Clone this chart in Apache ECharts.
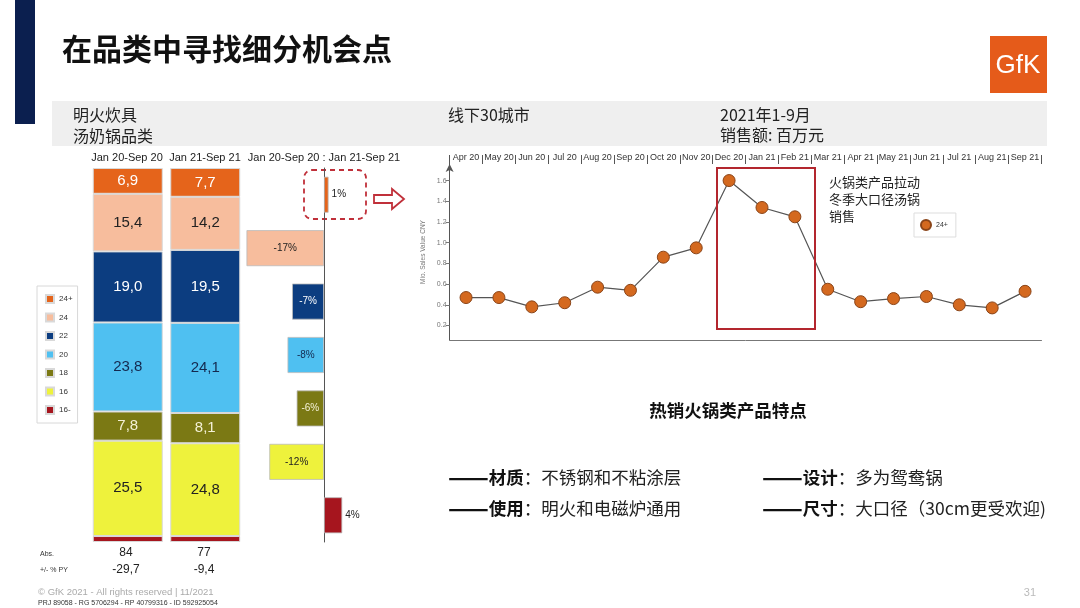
<!DOCTYPE html>
<html><head><meta charset="utf-8">
<script src="https://cdn.jsdelivr.net/npm/echarts@6/dist/echarts.min.js"></script>
<style>html,body{margin:0;padding:0;background:#fff}#c{width:1080px;height:608px}</style>
</head><body><div id="c"></div>
<script>
// ---------- data ----------
const segments = ['24+', '24', '22', '20', '18', '16', '16-'];
const periods = ['Jan 20-Sep 20', 'Jan 21-Sep 21'];
const share2020 = [6.9, 15.4, 19.0, 23.8, 7.8, 25.5, 1.6];
const share2021 = [7.7, 14.2, 19.5, 24.1, 8.1, 24.8, 1.6];
const changePct = [1, -17, -7, -8, -6, -12, 4];
const absValues = ['84', '77'];
const pyChange = ['-29,7', '-9,4'];
const months = ['Apr 20', 'May 20', 'Jun 20', 'Jul 20', 'Aug 20', 'Sep 20', 'Oct 20', 'Nov 20', 'Dec 20',
  'Jan 21', 'Feb 21', 'Mar 21', 'Apr 21', 'May 21', 'Jun 21', 'Jul 21', 'Aug 21', 'Sep 21'];
const sales24plus = [0.47, 0.47, 0.38, 0.42, 0.57, 0.54, 0.86, 0.95, 1.60, 1.34, 1.25, 0.55, 0.43, 0.46, 0.48, 0.40, 0.37, 0.53];
const yTicks = [0.2, 0.4, 0.6, 0.8, 1.0, 1.2, 1.4, 1.6];

// ---------- styles ----------
const segColor = {'24+': '#e5641b', '24': '#f7bd9d', '22': '#0c3d80', '20': '#4fc0f1', '18': '#7b7914', '16': '#eef23c', '16-': '#a6151e'};
const segLabel = {'24+': '#ffffff', '24': '#222222', '22': '#ffffff', '20': '#14284e', '18': '#f4f1d6', '16': '#222222', '16-': '#ffffff'};
const CJK = '"Noto Sans CJK SC", sans-serif';
const LAT = '"Liberation Sans", Arial, "Noto Sans CJK SC", sans-serif';
const fmtComma = v => v.toFixed(1).replace('.', ',');

const chart = echarts.init(document.getElementById('c'), null, {renderer: 'canvas'});

// stacked share bars (bottom segment first)
const stackSeries = segments.slice().reverse().map(seg => {
  const i = segments.indexOf(seg);
  return {
    name: seg, type: 'bar', stack: 'share', xAxisIndex: 0, yAxisIndex: 0,
    barWidth: 70,
    data: [share2020[i], share2021[i]],
    itemStyle: {color: segColor[seg], borderColor: '#d9d9d9', borderWidth: 1},
    label: {
      show: seg !== '16-', position: 'inside', fontFamily: LAT, fontSize: 15,
      color: segLabel[seg], formatter: p => fmtComma(p.value)
    }
  };
});

const changeSeries = {
  name: 'change', type: 'bar', xAxisIndex: 1, yAxisIndex: 1, barWidth: 36,
  data: changePct.map((v, i) => ({
    value: v,
    itemStyle: {color: segColor[segments[i]], borderColor: '#bbbbbb', borderWidth: 0.8},
    label: {position: v > 0 ? 'right' : 'inside', color: v > 0 ? '#222' : segLabel[segments[i]], distance: 3}
  })),
  label: {show: true, fontFamily: LAT, fontSize: 10, formatter: p => p.value + '%'}
};

const lineSeries = {
  name: 'line24+', type: 'line', xAxisIndex: 2, yAxisIndex: 2,
  data: sales24plus, symbol: 'circle', symbolSize: 12,
  itemStyle: {color: '#d4691f', borderColor: '#8a4418', borderWidth: 1},
  lineStyle: {color: '#555555', width: 1.2}, z: 5
};

function txt(x, y, text, font, fill, align, extra) {
  return Object.assign({type: 'text', x: x, y: y, silent: true,
    style: Object.assign({text: text, font: font, fill: fill,
      textAlign: align || 'left', align: align || 'left',
      textVerticalAlign: 'middle', verticalAlign: 'middle'}, extra || {})});
}
function richTxt(x, y, text) {
  return {type: 'text', x: x, y: y, silent: true, style: {
    text: text, fontFamily: CJK, fontSize: 17.5, fill: '#222', align: 'left', verticalAlign: 'middle',
    textAlign: 'left', textVerticalAlign: 'middle',
    rich: {
      d: {fontFamily: CJK, fontSize: 24, fontWeight: 'bold', fill: '#111'},
      b: {fontFamily: CJK, fontSize: 17.5, fontWeight: 'bold', fill: '#111'}
    }
  }};
}

const graphics = [
  {type: 'rect', silent: true, shape: {x: 15, y: 0, width: 20, height: 124}, style: {fill: '#0b1f4f'}},
  txt(62, 49, '在品类中寻找细分机会点', 'bold 30px ' + CJK, '#111'),
  // logo
  {type: 'rect', silent: true, shape: {x: 990, y: 36, width: 57, height: 57}, style: {fill: '#e55b1a'}},
  txt(1018, 66, 'GfK', '26px ' + LAT, '#ffffff', 'center'),
  // header band
  {type: 'rect', silent: true, shape: {x: 52, y: 101, width: 995, height: 45}, style: {fill: '#efefef'}},
  txt(73, 115, '明火炊具', '16px ' + CJK, '#222'),
  txt(73, 136, '汤奶锅品类', '16px ' + CJK, '#222'),
  txt(448, 115, '线下30城市', '16px ' + CJK, '#222'),
  txt(720, 115, '2021年1-9月', '16px ' + CJK, '#222'),
  txt(720, 135, '销售额: 百万元', '16px ' + CJK, '#222'),
  // column headers
  txt(127, 158, periods[0], '11px ' + LAT, '#222', 'center'),
  txt(205, 158, periods[1], '11px ' + LAT, '#222', 'center'),
  txt(324, 158, periods[0] + ' : ' + periods[1], '11px ' + LAT, '#222', 'center'),
  // abs rows
  txt(40, 554, 'Abs.', '7px ' + LAT, '#333'),
  txt(40, 570, '+/- % PY', '7px ' + LAT, '#333'),
  txt(126, 553, absValues[0], '12px ' + LAT, '#222', 'center'),
  txt(204, 553, absValues[1], '12px ' + LAT, '#222', 'center'),
  txt(126, 570, pyChange[0], '12px ' + LAT, '#222', 'center'),
  txt(204, 570, pyChange[1], '12px ' + LAT, '#222', 'center'),
  // footer
  txt(38, 592, '© GfK 2021 - All rights reserved | 11/2021', '9.5px ' + LAT, '#aaaaaa'),
  txt(38, 603, 'PRJ 89058 - RG 5706294 - RP 40799316 - ID 592925054', '7px ' + LAT, '#333'),
  txt(1036, 593, '31', '11px ' + LAT, '#bbbbbb', 'right'),
  // dashed highlight + arrow
  {type: 'rect', silent: true, shape: {x: 304, y: 170, width: 62, height: 49, r: 8},
    style: {fill: 'none', stroke: '#c0303a', lineWidth: 1.8, lineDash: [5, 4]}},
  {type: 'polygon', silent: true, shape: {points: [[374, 195], [392, 195], [392, 189], [404, 199], [392, 209], [392, 203], [374, 203]]},
    style: {fill: '#ffffff', stroke: '#c0303a', lineWidth: 1.8}},
  // line chart annotations
  {type: 'rect', silent: true, shape: {x: 717, y: 168, width: 98, height: 161},
    style: {fill: 'none', stroke: '#b3262e', lineWidth: 2}, z: 10},
  txt(829, 182, '火锅类产品拉动', '13px ' + CJK, '#222'),
  txt(829, 199, '冬季大口径汤锅', '13px ' + CJK, '#222'),
  txt(829, 216, '销售', '13px ' + CJK, '#222'),
  // bottom feature text
  txt(728, 410, '热销火锅类产品特点', 'bold 17.5px ' + CJK, '#111', 'center'),
  richTxt(448, 477, '{d|——}{b|材质}：不锈钢和不粘涂层'),
  richTxt(448, 508, '{d|——}{b|使用}：明火和电磁炉通用'),
  richTxt(762, 477, '{d|——}{b|设计}：多为鸳鸯锅'),
  richTxt(762, 508, '{d|——}{b|尺寸}：大口径（30cm更受欢迎)')
];

const option = {
  animation: false,
  backgroundColor: '#ffffff',
  textStyle: {fontFamily: LAT},
  legend: [
    {
      data: segments, orient: 'vertical', left: 37, top: 286,
      itemWidth: 8, itemHeight: 8, itemGap: 8.5, icon: 'rect',
      textStyle: {fontSize: 8, color: '#333', fontFamily: LAT},
      borderColor: '#d8d8d8', borderWidth: 1, padding: [8, 5, 8, 8], selectedMode: false
    },
    {
      data: ['line24+'], left: 914, top: 213, icon: 'circle',
      itemWidth: 10, itemHeight: 10, formatter: () => '24+',
      textStyle: {fontSize: 7, color: '#333', fontFamily: LAT},
      borderColor: '#dddddd', borderWidth: 1, padding: [6, 8, 6, 6], selectedMode: false
    }
  ],
  grid: [
    {left: 89, top: 168, width: 155, height: 374},
    {left: 246.5, top: 168, width: 100.3, height: 374},
    {left: 449.6, top: 164, width: 591.9, height: 176}
  ],
  xAxis: [
    {type: 'category', gridIndex: 0, data: periods, show: false},
    {type: 'value', gridIndex: 1, min: -17, max: 5, show: false},
    {type: 'category', gridIndex: 2, data: months, position: 'top',
      axisLine: {show: false},
      axisTick: {show: true, length: 9, interval: 0, lineStyle: {color: '#555'}},
      axisLabel: {interval: 0, fontSize: 9, margin: 2, color: '#333', fontFamily: LAT}},
    {type: 'category', gridIndex: 2, data: months, position: 'bottom',
      axisLine: {show: true, lineStyle: {color: '#777', width: 1}},
      axisTick: {show: false}, axisLabel: {show: false}}
  ],
  yAxis: [
    {type: 'value', gridIndex: 0, min: 0, max: 100, show: false},
    {type: 'category', gridIndex: 1, data: segments, inverse: true,
      axisLine: {show: true, onZero: true, lineStyle: {color: '#555', width: 1}},
      axisTick: {show: false}, axisLabel: {show: false}},
    {type: 'value', gridIndex: 2, min: 0.06, max: 1.76,
      axisLine: {show: true, symbol: ['none', 'arrow'], symbolSize: [6, 8], lineStyle: {color: '#555', width: 1}},
      axisTick: {show: true, length: 4, customValues: yTicks, lineStyle: {color: '#777'}},
      axisLabel: {customValues: yTicks, fontSize: 7, color: '#777', margin: 3, formatter: v => v.toFixed(1), fontFamily: LAT},
      splitLine: {show: false},
      name: 'Mio. Sales Value CNY', nameLocation: 'middle', nameRotate: 90, nameGap: 19,
      nameTextStyle: {fontSize: 6.5, color: '#777', fontFamily: LAT}}
  ],
  series: stackSeries.concat([changeSeries, lineSeries]),
  graphic: graphics
};
chart.setOption(option);
</script></body></html>
